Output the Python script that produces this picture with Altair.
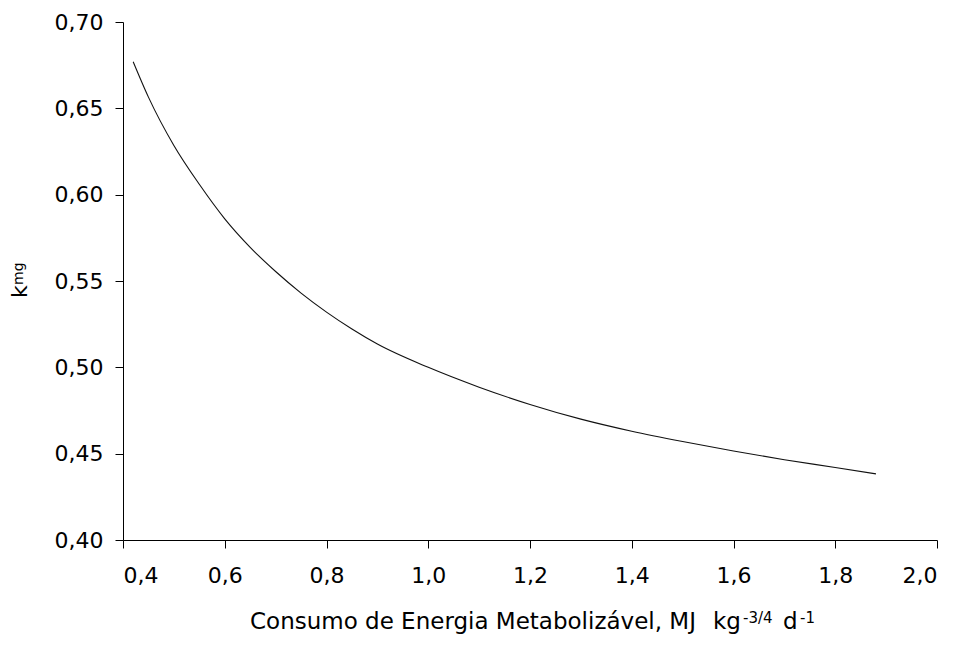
import altair as alt
import pandas as pd

# values
consumo = [0.42, 0.45, 0.50, 0.55, 0.60, 0.65, 0.70, 0.75, 0.80, 0.85, 0.90,
           1.00, 1.10, 1.20, 1.30, 1.40, 1.50, 1.60, 1.70, 1.80, 1.88]
kmg = [0.677, 0.6565, 0.6285, 0.606, 0.586, 0.5695, 0.5555, 0.543, 0.532, 0.5222, 0.5135,
       0.500, 0.4885, 0.4785, 0.470, 0.463, 0.457, 0.4515, 0.4465, 0.442, 0.4383]

x_ticks = [0.4, 0.6, 0.8, 1.0, 1.2, 1.4, 1.6, 1.8, 2.0]
y_ticks = [0.40, 0.45, 0.50, 0.55, 0.60, 0.65, 0.70]

x_title_main = "Consumo de Energia Metabolizável, MJ"
x_title_kg = "kg"
x_title_sup1 = "-3/4"
x_title_d = "d"
x_title_sup2 = "-1"
y_title_k = "k"
y_title_sub = "mg"

FONT = "DejaVu Sans"

df = pd.DataFrame({"x": consumo, "y": kmg})

line = alt.Chart(df).mark_line(color="#111111", strokeWidth=1.1, interpolate="monotone").encode(
    x=alt.X("x:Q",
            scale=alt.Scale(domain=[0.4, 2.0], nice=False, zero=False),
            axis=alt.Axis(values=x_ticks, title=None, grid=False,
                          labelExpr="replace(format(datum.value, '.1f'), '.', ',')",
                          tickSize=8, labelPadding=17, labelFontSize=22, labelFont=FONT,
                          labelColor="black", domainColor="black", tickColor="black")),
    y=alt.Y("y:Q",
            scale=alt.Scale(domain=[0.40, 0.70], nice=False, zero=False),
            axis=alt.Axis(values=y_ticks, title=None, grid=False,
                          labelExpr="replace(format(datum.value, '.2f'), '.', ',')",
                          tickSize=8, labelPadding=12, labelFontSize=22, labelFont=FONT,
                          labelColor="black", domainColor="black", tickColor="black")),
)


def txt(s, x, y, size, angle=0, align="left"):
    return alt.Chart(pd.DataFrame({"t": [s]})).mark_text(
        font=FONT, fontSize=size, color="black", align=align,
        baseline="alphabetic", angle=angle
    ).encode(x=alt.value(x), y=alt.value(y), angle=alt.value(angle), text="t:N")


texts = [
    txt(x_title_main, 127, 607, 23),
    txt(x_title_kg, 590, 607, 23),
    txt(x_title_sup1, 620, 601, 15),
    txt(x_title_d, 660, 607, 23),
    txt(x_title_sup2, 677, 601, 15),
    txt(y_title_k, -96, 276, 22, angle=270),
    txt(y_title_sub, -100, 263, 14, angle=270),
]

chart = alt.layer(line, *texts).properties(
    width=814, height=518,
    autosize=alt.AutoSizeParams(type="none"),
    padding={"left": 123, "top": 22, "right": 27, "bottom": 108},
    background="white",
).configure_view(stroke=None)

chart.save("out.html", embed_options={"renderer": "svg", "actions": False})
